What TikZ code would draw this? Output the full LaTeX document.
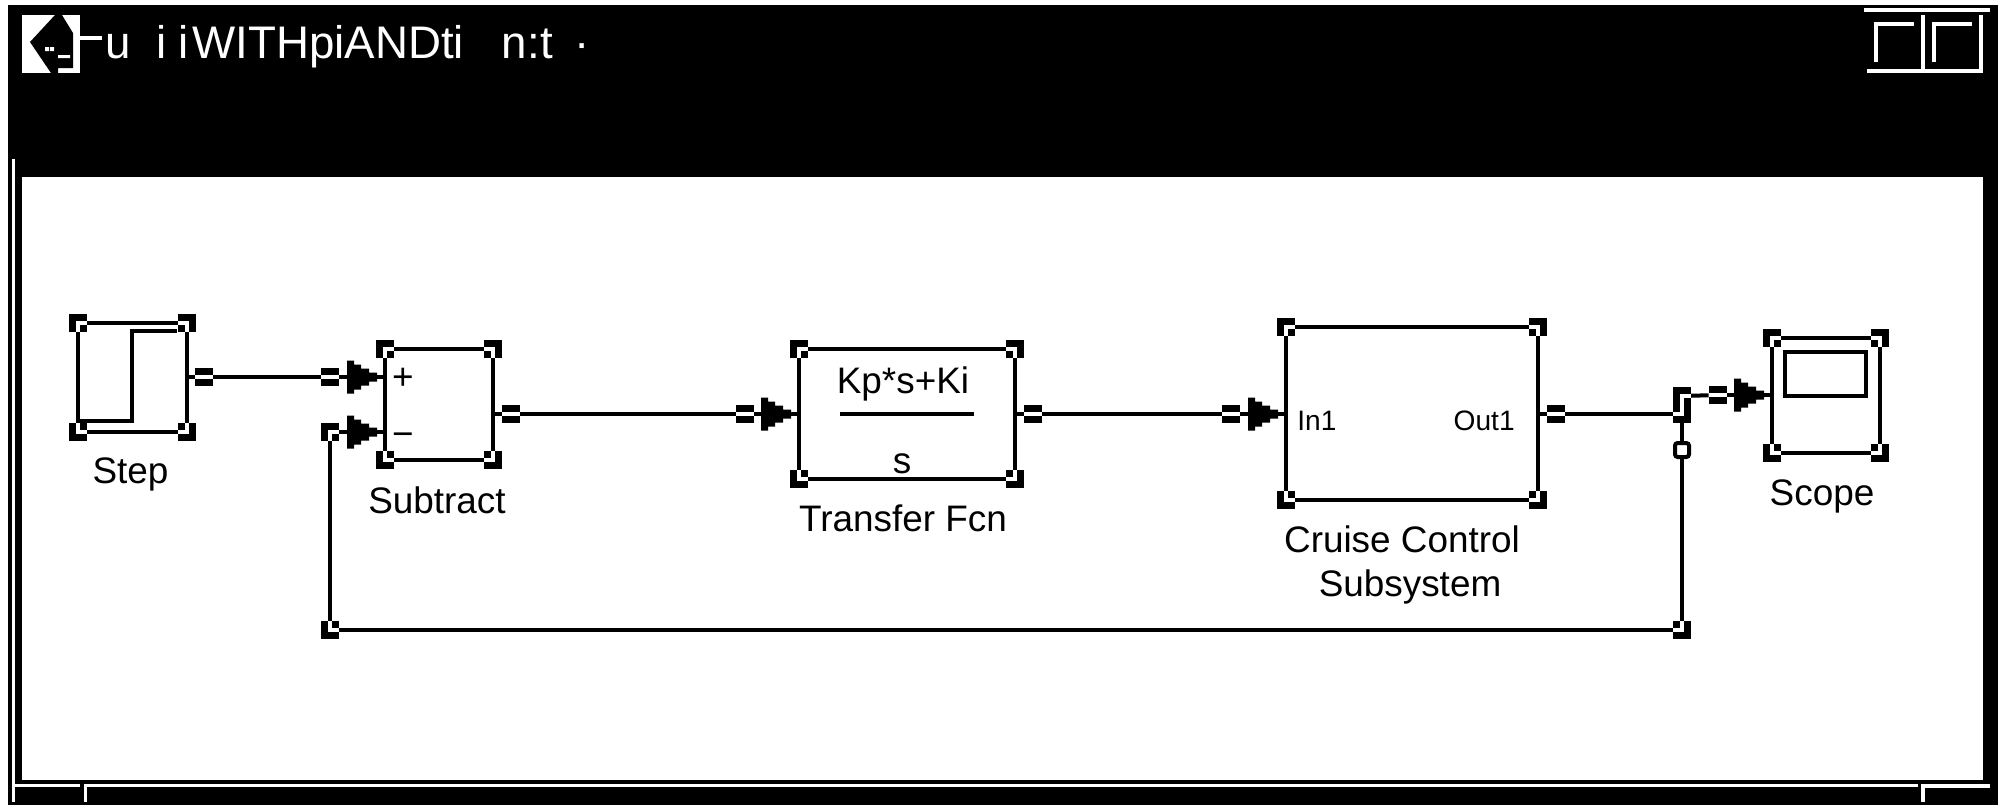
\documentclass[tikz,border=0pt]{standalone}
\usepackage{fontspec}
\setmainfont{Liberation Sans}
\usetikzlibrary{decorations.markings}
\tikzstyle{block} = [draw, rectangle, line width=0.08cm, outer sep=0pt, inner sep=0pt]
\tikzstyle{wire} = [line width=0.08cm]
\tikzstyle{vecWire} = [wire, decoration={markings,mark=at position
   -0.16cm with {\fill (-30,-16.5) -- (-23,-16.5) -- (-23,-12.5) -- (-16,-12.5) -- (-16,-8.5) -- (-8,-8.5) -- (-8,-4.5) -- (0,-4.5)
   -- (0,4.5) -- (-8,4.5) -- (-8,8.5) -- (-16,8.5) -- (-16,12.5) -- (-23,12.5) -- (-23,16.5) -- (-30,16.5) -- cycle;}},
   postaction = {decorate}]
\tikzstyle{portbar} = [fill=black, minimum width=0.36cm, minimum height=0.36cm, inner sep=0pt,
   path picture={\draw[white, line width=0.08cm] (path picture bounding box.west) -- (path picture bounding box.east);}]
\tikzstyle{tap} = [draw, fill=white, line width=0.08cm, minimum size=0.28cm, inner sep=0pt, rounded corners=1.5pt]
\tikzstyle{junction} = [inner sep=0pt, minimum size=0pt]
\tikzstyle{lbl} = [font=\fontsize{21}{25}\selectfont, inner sep=0pt, anchor=base]
\tikzstyle{portlbl} = [font=\fontsize{16}{19}\selectfont, inner sep=0pt]
\tikzstyle{titletxt} = [font=\fontsize{26}{30}\selectfont, text=white, inner sep=0pt, anchor=base west]
\tikzstyle{winline} = [white, line width=0.08cm]
% corner grip, sx and sy turn it towards the inside of the block
\newcommand{\gripmark}[3]{
	\begin{scope}[shift={(#1)}, xscale=#2, yscale=#3]
		\fill[black] (-9,-9) rectangle (9,9);
		\fill[white] (-2,-2) rectangle (9,9);
		\fill[black] (2,2) rectangle (9,9);
	\end{scope}}
\newcommand{\blockgrips}[1]{
	\foreach \c/\sx/\sy in {north west/1/1, north east/-1/1, south west/1/-1, south east/-1/-1}
		{\gripmark{#1.\c}{\sx}{\sy}}}

\begin{document}
\begin{tikzpicture}[x=0.02cm, y=-0.02cm]
		\useasboundingbox (0,0) rectangle (1998,805);
		% window
		\fill[white] (0,0) rectangle (1998,805);
		\fill[black] (8,5) rectangle (1998,805);
		\fill[white] (22,177) rectangle (1983,780);
		\draw[white, line width=0.07cm] (13.5,159) -- (13.5,802);
		\draw[white, line width=0.07cm] (12,785.5) -- (80,785.5);
		\draw[white, line width=0.07cm] (85.5,802) -- (85.5,785.5) -- (1918,785.5);
		\draw[white, line width=0.08cm] (1923,802) -- (1923,785.5) -- (1990,785.5);
		% title bar
		\fill[white] (22,15) rectangle (80,73);
		\fill[black] (55,15) -- (62,15) -- (73,33) -- (73,68) -- (58,68) -- (58,73) -- (51,73) -- (30,42) -- cycle;
		\fill[white] (45,47) rectangle (49,51) (50,47) rectangle (54,51) (58,55) rectangle (70,58);
		\fill[white] (80,36) rectangle (102,40);
		\node[titletxt] (titleA) at (105,58) {u\ \ i\ i};
		\node[titletxt] (titleB) at (192,58) {WITHpiANDti\ \ \ n:t};
		\node[titletxt] (titleC) at (574,58) {·};
		\draw[winline] (1864,9.5) -- (1990,9.5);
		\draw[winline] (1867,71) -- (1981,71) -- (1981,15);
		\draw[winline] (1923,15) -- (1923,71);
		\draw[winline] (1876,62) -- (1876,24) -- (1914,24);
		\draw[winline] (1934,62) -- (1934,24) -- (1972,24);

		% blocks
		\node[block, minimum width=2.18cm, minimum height=2.18cm] (step) at (132.5,377.5) {};
		\node[block, minimum width=2.16cm, minimum height=2.22cm] (subtract) at (439,404.5) {};
		\node[block, minimum width=4.32cm, minimum height=2.6cm] (transfer) at (907,414) {};
		\node[block, minimum width=5.04cm, minimum height=3.46cm] (cruise) at (1412,413.5) {};
		\node[block, minimum width=2.16cm, minimum height=2.3cm] (scope) at (1826,395.5) {};
		\node[block, minimum width=1.62cm, minimum height=0.88cm] (screen) at (1825.5,374) {};
		\draw[wire] (78,421) -- (132,421) -- (132,331) -- (177,331);

		% block texts
		\node[lbl] (stepLbl) at (130.5,483) {Step};
		\node[lbl] (subtractLbl) at (437,513) {Subtract};
		\node[lbl] (transferLbl) at (903,531) {Transfer Fcn};
		\node[lbl] (cruiseLbl) at (1402,552) {Cruise Control};
		\node[lbl] (subsystemLbl) at (1410,596) {Subsystem};
		\node[lbl] (scopeLbl) at (1822,505) {Scope};
		\node[lbl] (num) at (903,393) {Kp*s+Ki};
		\node[lbl] (den) at (902,473) {s};
		\node[portlbl, anchor=base west] (in1) at (1297,430) {In1};
		\node[portlbl, anchor=base east] (out1) at (1515,430) {Out1};
		\node[lbl, anchor=center] (plus) at (403,379) {+};
		\node[lbl, anchor=center] (minus) at (403,440) {−};
		\coordinate (fracL) at (840,414);
		\coordinate (fracR) at (974,414);
		\draw[wire] (fracL) -- (fracR);

		% ports and bends
		\node[portbar] (stepPort) at (204,377) {};
		\node[portbar] (plusPort) at (330,377) {};
		\node[portbar] (subPort) at (511,414) {};
		\node[portbar] (transferIn) at (745,414) {};
		\node[portbar] (transferOut) at (1033,414) {};
		\node[portbar] (cruiseIn) at (1231,414) {};
		\node[portbar] (cruiseOut) at (1556,414) {};
		\node[portbar] (scopeIn) at (1718,395) {};
		\node[junction] (tee) at (1682,414) {};
		\node[junction] (bend) at (1682,396) {};
		\node[tap] (branch) at (1682,450) {};
		\node[junction] (cornerR) at (1682,630) {};
		\node[junction] (cornerL) at (330,630) {};
		\node[junction] (feedback) at (330,432) {};

		% connectors
		\draw[wire] (step.east |- stepPort) -- (stepPort);
		\draw[wire] (stepPort) -- (plusPort);
		\draw[vecWire] (plusPort) -- (subtract.west |- plusPort);
		\draw[wire] (subtract.east |- subPort) -- (subPort);
		\draw[wire] (subPort) -- (transferIn);
		\draw[vecWire] (transferIn) -- (transfer.west);
		\draw[wire] (transfer.east) -- (transferOut);
		\draw[wire] (transferOut) -- (cruiseIn);
		\draw[vecWire] (cruiseIn) -- (cruise.west |- cruiseIn);
		\draw[wire] (cruise.east |- cruiseOut) -- (cruiseOut);
		\draw[wire] (cruiseOut) -- (tee.center);
		\draw[wire] (tee.center) -- (bend.center) -- (scopeIn);
		\draw[vecWire] (scopeIn) -- (scope.west |- scopeIn);
		\draw[wire] (tee.center) -- (branch);
		\draw[wire] (branch) -- (cornerR.center) -- (cornerL.center) -- (feedback.center);
		\draw[vecWire] (feedback.center) -- (subtract.west |- feedback);

		% grips
		\blockgrips{step}
		\blockgrips{subtract}
		\blockgrips{transfer}
		\blockgrips{cruise}
		\blockgrips{scope}
		\gripmark{bend}{1}{1}
		\gripmark{tee}{-1}{-1}
		\gripmark{cornerR}{-1}{-1}
		\gripmark{cornerL}{1}{-1}
		\gripmark{feedback}{1}{1}
\end{tikzpicture}
\end{document}
